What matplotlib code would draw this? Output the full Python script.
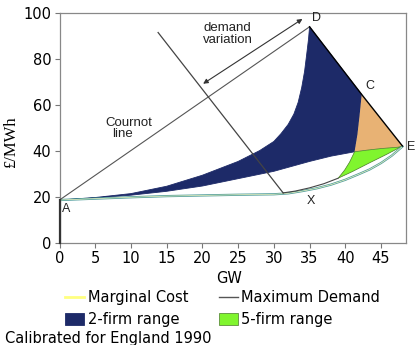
import matplotlib
matplotlib.use("Agg")
import matplotlib.pyplot as plt

# -----------------------------
# DONNEES
# -----------------------------
# points caracteristiques (GW, £/MWh)
point_names = ["A", "D", "C", "E"]
point_x = [0.0, 35.0, 42.3, 48.0]
point_y = [18.5, 93.9, 64.4, 42.0]

# courbe haute de la plage 2 firmes (A -> D)
upper_x = [0, 5, 10, 15, 20, 25, 28, 30, 31, 32, 32.8, 33.4, 33.9, 34.3, 34.6, 34.85, 35.0]
upper_y = [18.5, 19.6, 21.3, 24.5, 29.3, 35.3, 40.0, 44.0, 47.4, 51.4, 55.9, 61.0, 67.5, 74.5, 82.0, 88.5, 93.9]

# courbe basse de la plage 2 firmes (A -> jonction)
lower_x = [0, 5, 10, 15, 20, 25, 30, 35, 38, 41.3]
lower_y = [18.5, 19.4, 20.6, 22.3, 24.6, 27.8, 31.0, 35.3, 37.6, 39.5]

# suite de la courbe basse (jonction -> E)
lower_end_x = [41.3, 43, 45, 47.4, 48.0]
lower_end_y = [39.5, 40.2, 40.9, 41.5, 42.0]

# courbe X -> C
edge_x = [31.3, 33.0, 35.0, 37.0, 39.0, 39.9, 40.6, 41.3, 41.7, 42.0, 42.3]
edge_y = [21.6, 22.4, 23.8, 25.6, 28.0, 31.5, 35.0, 39.5, 47.0, 55.2, 64.4]

# bord bas de la plage 5 firmes (E -> bas gauche)
green_low_x = [48.0, 45.8, 43.4, 41.0, 39.0]
green_low_y = [42.0, 38.4, 34.7, 30.9, 28.0]

# cout marginal
mc_x = [0, 5, 10, 15, 20, 25, 30, 32, 34, 36, 38, 40, 42, 43.4, 45, 46.5, 48]
mc_y = [18.5, 19.1, 19.7, 20.2, 20.5, 20.8, 21.0, 21.4, 22.4, 23.6, 25.2, 27.3, 29.9, 31.8, 34.6, 37.8, 41.8]

# droite de Cournot et fleche de variation de la demande
cournot_x = [13.8, 31.3]
cournot_y = [91.4, 21.6]
arrow_start = (20.1, 69.1)
arrow_end = (34.0, 97.3)

x_ticks = [0, 5, 10, 15, 20, 25, 30, 35, 40, 45]
y_ticks = [0, 20, 40, 60, 80, 100]

# -----------------------------
# FIGURE
# -----------------------------
fig = plt.figure(figsize=(4.15, 3.45), dpi=100)
ax = fig.add_axes([0.1434, 0.297, 0.835, 0.666])

navy = "#1d2a68"
orange = "#e8b274"
green = "#80f52e"
teal = "#4f9c9c"

# plage 2 firmes : A -> D -> C -> jonction -> A
i_c = point_names.index("C")
i_d = point_names.index("D")
i_e = point_names.index("E")
blue_x = upper_x + [point_x[i_c]] + edge_x[::-1][1:4] + lower_x[::-1][1:]
blue_y = upper_y + [point_y[i_c]] + edge_y[::-1][1:4] + lower_y[::-1][1:]
ax.fill(blue_x, blue_y, color=navy, lw=0.6, ec=navy, zorder=2, label="2-firm range")

# zone orange : C -> E -> jonction -> C
orange_x = [point_x[i_c], point_x[i_e]] + lower_end_x[::-1][1:] + edge_x[7:]
orange_y = [point_y[i_c], point_y[i_e]] + lower_end_y[::-1][1:] + edge_y[7:]
ax.fill(orange_x, orange_y, color=orange, lw=0, zorder=2)

# plage 5 firmes
green_x = green_low_x + edge_x[5:8] + lower_end_x[1:]
green_y = green_low_y + edge_y[5:8] + lower_end_y[1:]
ax.fill(green_x, green_y, color=green, lw=0.5, ec="#4a7a2a", zorder=2, label="5-firm range")

# cout marginal
ax.plot(mc_x, mc_y, color=teal, lw=1.6, zorder=3)
ax.plot(mc_x, mc_y, color="#f4f7c0", lw=0.5, zorder=3, label="Marginal Cost")

# courbe X -> bas de la zone verte
ax.plot(edge_x[:5], edge_y[:5], color="#444444", lw=0.8, zorder=3)

# demande maximale
ax.plot([point_x[0], point_x[i_d]], [point_y[0], point_y[i_d]],
        color="#555555", lw=0.8, zorder=3, label="Maximum Demand")
ax.plot(point_x[1:], point_y[1:], color="black", lw=1.0, zorder=4)
ax.plot([0, 0], [0, point_y[0]], color="#333333", lw=1.6, zorder=4, clip_on=False)

# droite de Cournot
ax.plot(cournot_x, cournot_y, color="#444444", lw=0.9, zorder=4)

# fleche double
ax.annotate("", xy=arrow_end, xytext=arrow_start,
            arrowprops=dict(arrowstyle="<|-|>", color="#333333", lw=0.8,
                            mutation_scale=7, shrinkA=0, shrinkB=0), zorder=5)

# -----------------------------
# TEXTES
# -----------------------------
lab_font = dict(family="Liberation Sans", fontsize=9, color="#222222")
ax.text(1.0, 14.7, "A", ha="center", va="center", **lab_font)
ax.text(35.9, 97.6, "D", ha="center", va="center", **lab_font)
ax.text(43.5, 68.1, "C", ha="center", va="center", **lab_font)
ax.text(49.15, 41.4, "E", ha="center", va="center", clip_on=False, **lab_font)
ax.text(35.2, 17.9, "X", ha="center", va="center", **lab_font)

note_font = dict(family="Liberation Sans", fontsize=9.5, color="#222222")
ax.text(20.1, 96.0, "demand\nvariation", ha="left", va="top", linespacing=0.95, **note_font)
ax.text(6.4, 52.0, "Cournot", ha="left", va="center", **note_font)
ax.text(7.4, 47.1, "line", ha="left", va="center", **note_font)

# -----------------------------
# AXES
# -----------------------------
ax.set_xlim(0, 48.5)
ax.set_ylim(0, 100)
ax.set_xticks(x_ticks)
ax.set_yticks(y_ticks)
ax.tick_params(direction="out", length=3.5, width=0.8, color="#777777",
               labelsize=10.5, pad=2.5)
for spine in ax.spines.values():
    spine.set_color("#888888")
    spine.set_linewidth(0.9)

ax.set_xlabel("GW", fontsize=10.5)
ax.xaxis.set_label_coords(0.49, -0.125)
ax.set_ylabel("£/MWh", family="Liberation Serif", fontsize=12)
ax.yaxis.set_label_coords(-0.118, 0.436)

# legende
handles, labels = ax.get_legend_handles_labels()
order = [labels.index(n) for n in ["Marginal Cost", "2-firm range", "Maximum Demand", "5-firm range"]]
leg = fig.legend([handles[i] for i in order], [labels[i] for i in order],
                 loc="upper left", bbox_to_anchor=(65 / 415, 1 - 290 / 345),
                 ncol=2, frameon=False, fontsize=10.5, borderpad=0, borderaxespad=0,
                 handlelength=1.3, handleheight=0.85, handletextpad=0.25,
                 columnspacing=2.1, labelspacing=0.5)
leg.get_lines()[0].set_linewidth(2.0)
leg.get_lines()[0].set_color("#ffff80")
leg.get_lines()[1].set_linewidth(1.0)

fig.text(5 / 415, 1 - 339 / 345, "Calibrated for England 1990", fontsize=10.5,
         ha="left", va="center")

fig.savefig("out.png", dpi=100)
